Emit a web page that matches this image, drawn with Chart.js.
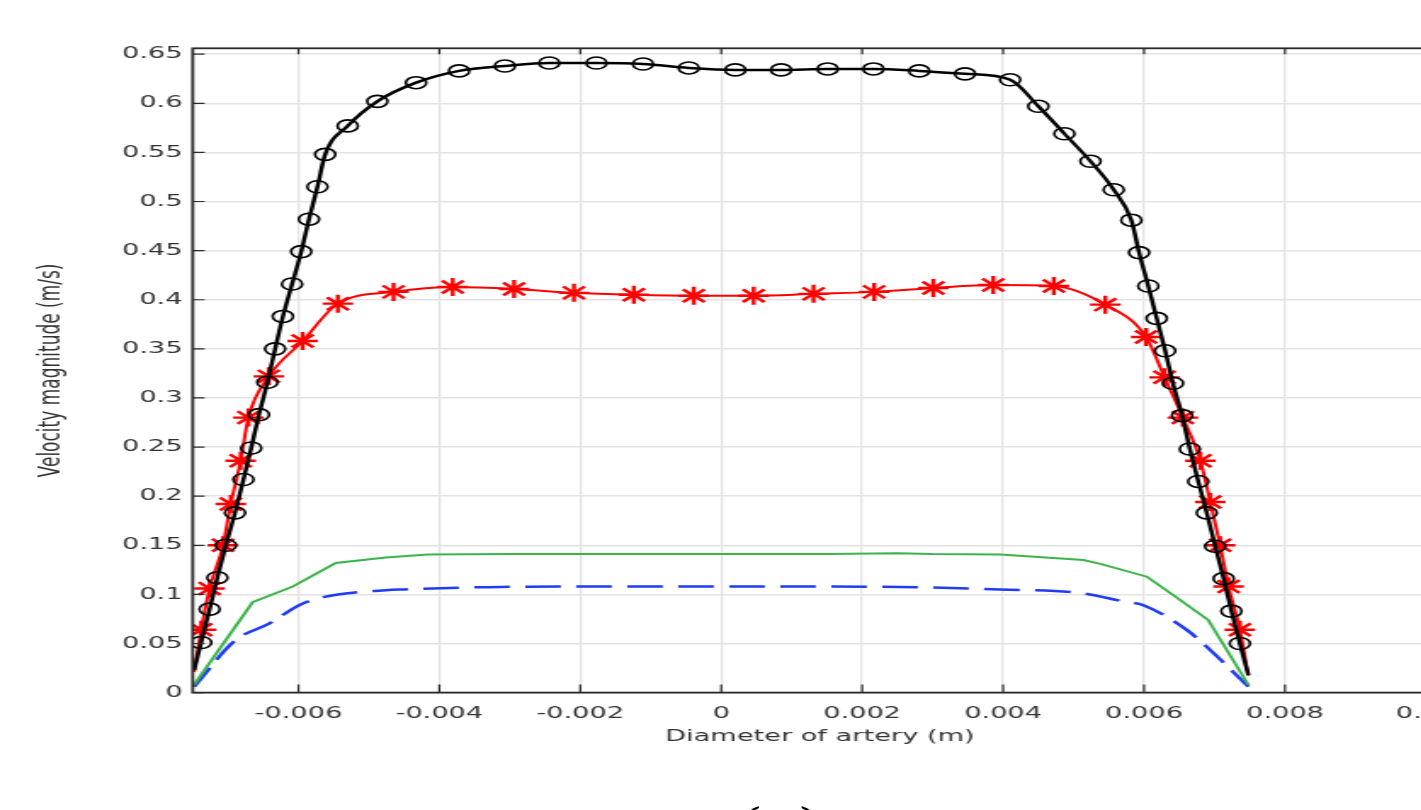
<!DOCTYPE html>
<html>
<head>
<meta charset="utf-8">
<script src="https://cdn.jsdelivr.net/npm/chart.js@4/dist/chart.umd.min.js"></script>
<style>
  html, body { margin: 0; overflow: hidden; background: #fff; width: 1421px; height: 810px; }
  /* the source figure is stretched sideways, so draw narrow and scale */
  #wrap { position: absolute; left: 0; top: 0; width: 880px; height: 810px;
          transform: scaleX(1.7); transform-origin: 0 0; }
  #box { position: absolute; left: 0; top: 0; width: 880px; height: 810px; }
  #cap { position: absolute; left: 400px; width: 118px; top: 803px; text-align: center;
         font: 34px/34px "DejaVu Serif"; color: #000; }
</style>
</head>
<body>
<div id="wrap">
  <div id="box"><canvas id="velocityChart"></canvas></div>
  <div id="cap">(a)</div>
</div>
<script>
const xTicks = [-0.006, -0.004, -0.002, 0, 0.002, 0.004, 0.006, 0.008, 0.01];
const yTicks = [0, 0.05, 0.1, 0.15, 0.2, 0.25, 0.3, 0.35, 0.4, 0.45, 0.5, 0.55, 0.6, 0.65];

// black, circles
const xBlack = [-0.00748, -0.00738, -0.00726, -0.00715, -0.00703, -0.00690, -0.00678, -0.00667, -0.00656, -0.00644,
  -0.00633, -0.00622, -0.00609, -0.00596, -0.00585, -0.00573, -0.00562, -0.00530, -0.00488, -0.00433,
  -0.00372, -0.00307, -0.00244, -0.00177, -0.00111, -0.00046, 0.00020, 0.00085, 0.00151, 0.00216,
  0.00281, 0.00346, 0.00410, 0.00450, 0.00487, 0.00524, 0.00557, 0.00582, 0.00593, 0.00606,
  0.00618, 0.00630, 0.00641, 0.00654, 0.00665, 0.00677, 0.00689, 0.00701, 0.00713, 0.00724, 0.00736, 0.00748];
const yBlack = [0.023, 0.051, 0.085, 0.117, 0.150, 0.183, 0.217, 0.249, 0.283, 0.316,
  0.350, 0.383, 0.416, 0.449, 0.482, 0.515, 0.548, 0.577, 0.602, 0.621,
  0.633, 0.638, 0.641, 0.641, 0.640, 0.636, 0.634, 0.634, 0.635, 0.635,
  0.633, 0.630, 0.624, 0.597, 0.569, 0.541, 0.512, 0.481, 0.448, 0.414,
  0.381, 0.348, 0.315, 0.282, 0.248, 0.215, 0.183, 0.149, 0.116, 0.083, 0.050, 0.018];

// red, stars
const xRed = [-0.00748, -0.00738, -0.00726, -0.00707, -0.00696, -0.00682, -0.00671, -0.00642, -0.00594, -0.00544,
  -0.00465, -0.00381, -0.00294, -0.00209, -0.00124, -0.00039, 0.00046, 0.00131, 0.00217, 0.00301,
  0.00386, 0.00472, 0.00545, 0.00603, 0.00629, 0.00655, 0.00680, 0.00694, 0.00708, 0.00720, 0.00736, 0.00748];
const yRed = [0.021, 0.064, 0.106, 0.150, 0.192, 0.236, 0.280, 0.322, 0.358, 0.396,
  0.408, 0.413, 0.411, 0.407, 0.405, 0.404, 0.404, 0.406, 0.408, 0.412,
  0.415, 0.414, 0.395, 0.362, 0.321, 0.280, 0.236, 0.194, 0.150, 0.108, 0.064, 0.017];

// green, solid
const xGreen = [-0.00748, -0.00665, -0.00608, -0.00547, -0.00476, -0.00417, -0.0030, -0.0015, 0, 0.0015,
  0.0025, 0.0030, 0.00396, 0.00514, 0.00538, 0.00604, 0.00642, 0.00691, 0.00748];
const yGreen = [0.008, 0.092, 0.108, 0.132, 0.1375, 0.1405, 0.141, 0.141, 0.141, 0.141,
  0.142, 0.141, 0.1405, 0.135, 0.131, 0.118, 0.099, 0.074, 0.008];

// blue, dashed
const xBlue = [-0.00748, -0.00689, -0.00641, -0.00599, -0.00563, -0.00476, -0.0045, -0.00313, -0.0015, 0,
  0.0015, 0.003, 0.00396, 0.00514, 0.00573, 0.00599, 0.00661, 0.00694, 0.00748];
const yBlue = [0.006, 0.0535, 0.0704, 0.089, 0.0975, 0.1043, 0.105, 0.1076, 0.108, 0.108,
  0.108, 0.107, 0.105, 0.101, 0.0924, 0.089, 0.0636, 0.0433, 0.006];

const pts = (xs, ys) => xs.map((x, i) => ({ x, y: ys[i] }));
const noEnds = r => ctx => (ctx.dataIndex === 0 || ctx.dataIndex === ctx.dataset.data.length - 1) ? 0 : r;

Chart.defaults.font.family = "DejaVu Sans";
Chart.defaults.color = "#333";

// box round the plot with inward tick marks
const frame = {
  id: "frame",
  afterDraw(chart) {
    const { ctx, chartArea: a, scales: { x, y } } = chart;
    ctx.save();
    ctx.strokeStyle = "#2a2a2a";
    ctx.lineWidth = 1.8;
    ctx.strokeRect(a.left, a.top, a.right - a.left, a.bottom - a.top);
    ctx.lineWidth = 1.2;
    ctx.beginPath();
    x.ticks.forEach(t => {
      const px = x.getPixelForValue(t.value);
      ctx.moveTo(px, a.bottom); ctx.lineTo(px, a.bottom - 8);
      ctx.moveTo(px, a.top); ctx.lineTo(px, a.top + 6);
    });
    y.ticks.forEach(t => {
      const py = y.getPixelForValue(t.value);
      ctx.moveTo(a.left, py); ctx.lineTo(a.left + 7, py);
    });
    ctx.stroke();
    ctx.restore();
  }
};

new Chart(document.getElementById("velocityChart"), {
  type: "line",
  data: {
    datasets: [
      {
        data: pts(xBlack, yBlack),
        borderColor: "#000", borderWidth: 2.5,
        cubicInterpolationMode: "monotone",
        pointStyle: "circle", pointRadius: noEnds(6),
        pointBorderColor: "#000", pointBackgroundColor: "rgba(0,0,0,0)", pointBorderWidth: 1.6
      },
      {
        data: pts(xRed, yRed),
        borderColor: "#ff0000", borderWidth: 2,
        cubicInterpolationMode: "monotone",
        pointStyle: "star", pointRadius: noEnds(9),
        pointBorderColor: "#ff0000", pointBorderWidth: 2.4
      },
      {
        data: pts(xGreen, yGreen),
        borderColor: "#3cb44b", borderWidth: 2,
        tension: 0, pointRadius: 0
      },
      {
        data: pts(xBlue, yBlue),
        borderColor: "#1f3cf5", borderWidth: 2.5, borderDash: [21, 9],
        cubicInterpolationMode: "monotone", pointRadius: 0
      }
    ]
  },
  options: {
    responsive: true,
    maintainAspectRatio: false,
    animation: false,
    events: [],
    layout: { padding: { left: 0, top: 48.3, right: 28.8, bottom: 57.4 } },
    plugins: { legend: { display: false }, tooltip: { enabled: false } },
    scales: {
      x: {
        type: "linear",
        min: -0.0075, max: 0.0103,
        afterBuildTicks: s => { s.ticks = xTicks.map(value => ({ value })); },
        afterFit: s => { s.height = 60; },
        grid: { color: "#e3e3e3", lineWidth: 1.3, drawTicks: false },
        border: { display: false },
        ticks: { padding: 12, font: { size: 16 }, color: "#333", maxRotation: 0,
                 callback: v => String(+v.toFixed(4)) },
        title: { display: true, text: "Diameter of artery (m)", font: { size: 16 }, color: "#333",
                 padding: { top: 0, bottom: 6 } }
      },
      y: {
        min: 0, max: 0.656,
        afterBuildTicks: s => { s.ticks = yTicks.map(value => ({ value })); },
        afterFit: s => { s.width = 113.35; },
        grid: { color: "#e3e3e3", lineWidth: 1.5, drawTicks: false },
        border: { display: false },
        ticks: { padding: 6, font: { size: 16 }, color: "#333",
                 callback: v => String(+v.toFixed(3)) },
        title: { display: true, text: "Velocity magnitude (m/s)", font: { size: 17 }, color: "#333",
                 padding: { top: 20, bottom: 0 } }
      }
    }
  },
  plugins: [frame]
});
</script>
</body>
</html>
